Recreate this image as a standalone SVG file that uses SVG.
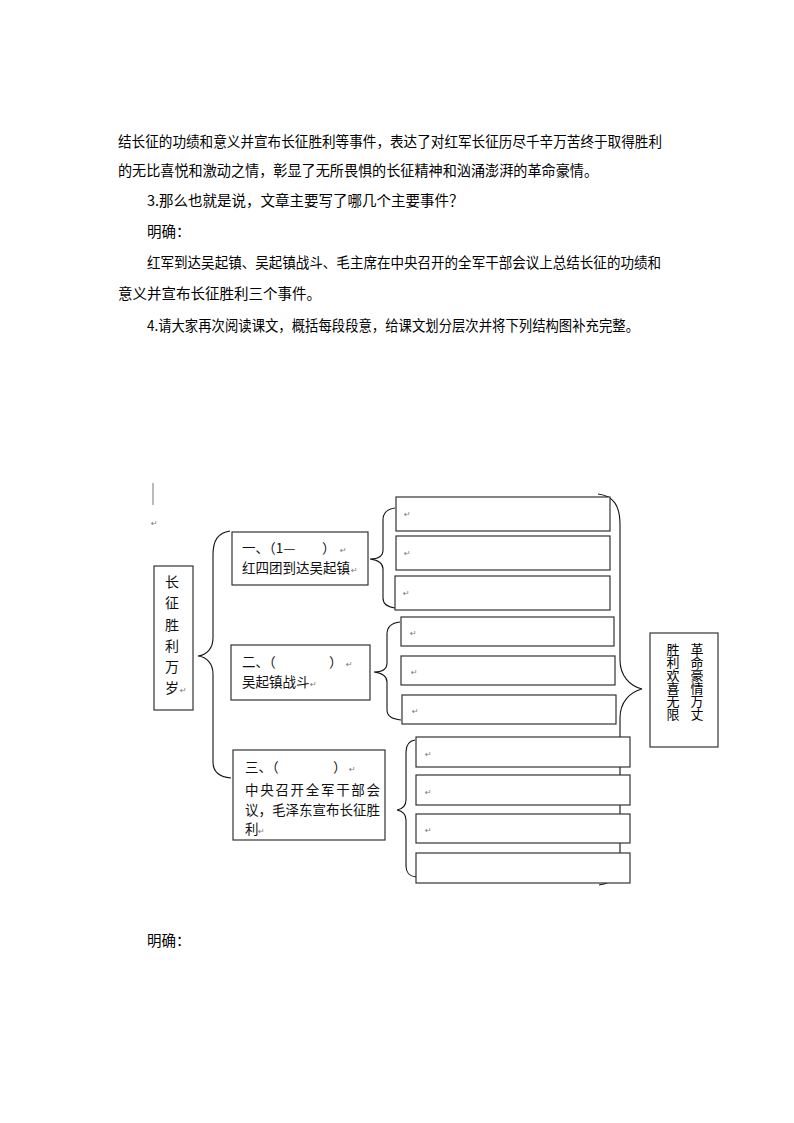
<svg xmlns="http://www.w3.org/2000/svg" width="794" height="1123" viewBox="0 0 794 1123">
<style>
.t{font-family:"Noto Sans CJK SC","Liberation Sans",sans-serif;font-size:14.5px;fill:#000}
.b{font-family:"Noto Sans CJK SC","Liberation Sans",sans-serif;font-size:13.5px;fill:#111}
.v{font-family:"Noto Sans CJK SC","Liberation Sans",sans-serif;font-size:14px;fill:#111;text-anchor:middle}
.r{font-family:"Noto Sans CJK SC","Liberation Sans",sans-serif;font-size:13px;fill:#000;writing-mode:vertical-rl}
.m{font-family:"DejaVu Sans",sans-serif;font-size:8px;fill:#777}
.box{fill:#fff;stroke:#333;stroke-width:1.2}
.br{fill:none;stroke:#111;stroke-width:1.1}
</style>
<rect width="794" height="1123" fill="#fff"/>
<g id="body-text">
<text class="t" x="118" y="147" textLength="544" lengthAdjust="spacingAndGlyphs">结长征的功绩和意义并宣布长征胜利等事件，表达了对红军长征历尽千辛万苦终于取得胜利</text>
<text class="t" x="118" y="176" textLength="480" lengthAdjust="spacingAndGlyphs">的无比喜悦和激动之情，彰显了无所畏惧的长征精神和汹涌澎湃的革命豪情。</text>
<text class="t" x="147" y="206">3.那么也就是说，文章主要写了哪几个主要事件？</text>
<text class="t" x="147" y="237">明确：</text>
<text class="t" x="147" y="268" textLength="514" lengthAdjust="spacingAndGlyphs">红军到达吴起镇、吴起镇战斗、毛主席在中央召开的全军干部会议上总结长征的功绩和</text>
<text class="t" x="118" y="299">意义并宣布长征胜利三个事件。</text>
<text class="t" x="147" y="331" textLength="492" lengthAdjust="spacingAndGlyphs">4.请大家再次阅读课文，概括每段段意，给课文划分层次并将下列结构图补充完整。</text>
<text class="t" x="147" y="946">明确：</text>
</g>
<g id="cursor">
<line x1="153" y1="483" x2="153" y2="505" stroke="#777" stroke-width="1"/>
<text class="m" x="151" y="526">↵</text>
</g>
<g id="connectors">
<path class="br" d="M230,531 C218,533 213,540 213,555 L213,638 C213,648 207,655 198,656 C207,657 213,664 213,674 L213,762 C213,772 220,777 231,778"/>
<path class="br" d="M395,508 C387,509 383,513 383,520 L383,550 C383,556 378,559 370,559 C378,560 383,563 383,569 L383,598 C383,604 387,607 395,608"/>
<path class="br" d="M400,622 C391,623 387,627 387,634 L387,663 C387,669 382,672 374,672 C382,673 387,676 387,682 L387,710 C387,716 391,719 401,720"/>
<path class="br" d="M415,740 C409,741 406,745 406,752 L406,800 C406,806 402,809 397,810 C402,811 406,814 406,820 L406,866 C406,873 409,876 416,877"/>
<path class="br" d="M598,494 C614,496 620,506 620,525 L620,660 C620,676 630,686 642,689 C630,692 620,702 620,718 L620,862 C620,876 612,883 599,885"/>
</g>
<g id="root">
<rect class="box" x="154" y="566" width="39" height="144"/>
<text class="v" x="172" y="587">长</text>
<text class="v" x="172" y="608">征</text>
<text class="v" x="172" y="630">胜</text>
<text class="v" x="172" y="651">利</text>
<text class="v" x="172" y="672">万</text>
<text class="v" x="172" y="693">岁</text>
<text class="m" x="180" y="693">↵</text>
</g>
<g id="part1">
<rect class="box" x="232" y="532" width="136" height="53"/>
<text class="b" x="242" y="553">一、（1—</text>
<text class="b" x="322" y="553">）</text>
<text class="m" x="340" y="553">↵</text>
<text class="b" x="242" y="573">红四团到达吴起镇</text>
<text class="m" x="351" y="573">↵</text>
</g>
<g id="part2">
<rect class="box" x="231" y="645" width="139" height="55"/>
<text class="b" x="242" y="667">二、（</text>
<text class="b" x="329" y="667">）</text>
<text class="m" x="346" y="667">↵</text>
<text class="b" x="242" y="687">吴起镇战斗</text>
<text class="m" x="310" y="687">↵</text>
</g>
<g id="part3">
<rect class="box" x="233" y="750" width="152" height="90"/>
<text class="b" x="245" y="772">三、（</text>
<text class="b" x="333" y="772">）</text>
<text class="m" x="349" y="772">↵</text>
<text class="b" x="245" y="795" textLength="135" lengthAdjust="spacing">中央召开全军干部会</text>
<text class="b" x="245" y="815" textLength="135" lengthAdjust="spacing">议，毛泽东宣布长征胜</text>
<text class="b" x="245" y="834">利</text>
<text class="m" x="258" y="834">↵</text>
</g>
<g id="slots1">
<rect class="box" x="396" y="497" width="214" height="34"/><text class="m" x="404" y="517">↵</text>
<rect class="box" x="396" y="536" width="214" height="34"/><text class="m" x="404" y="556">↵</text>
<rect class="box" x="395" y="576" width="215" height="34"/><text class="m" x="403" y="596">↵</text>
</g>
<g id="slots2">
<rect class="box" x="401" y="617" width="213" height="29"/><text class="m" x="410" y="636">↵</text>
<rect class="box" x="401" y="656" width="214" height="29"/><text class="m" x="411" y="675">↵</text>
<rect class="box" x="402" y="695" width="214" height="29"/><text class="m" x="412" y="714">↵</text>
</g>
<g id="slots3">
<rect class="box" x="416" y="737" width="214" height="30"/><text class="m" x="425" y="757">↵</text>
<rect class="box" x="416" y="775" width="214" height="30"/><text class="m" x="425" y="795">↵</text>
<rect class="box" x="416" y="814" width="214" height="29"/><text class="m" x="425" y="833">↵</text>
<rect class="box" x="416" y="853" width="214" height="30"/>
</g>
<g id="summary">
<rect class="box" x="650" y="633" width="68" height="114" stroke="#000"/>
<text class="r" x="697" y="643">革命豪情万丈</text>
<text class="r" x="673" y="643">胜利欢喜无限</text>
</g>
</svg>
